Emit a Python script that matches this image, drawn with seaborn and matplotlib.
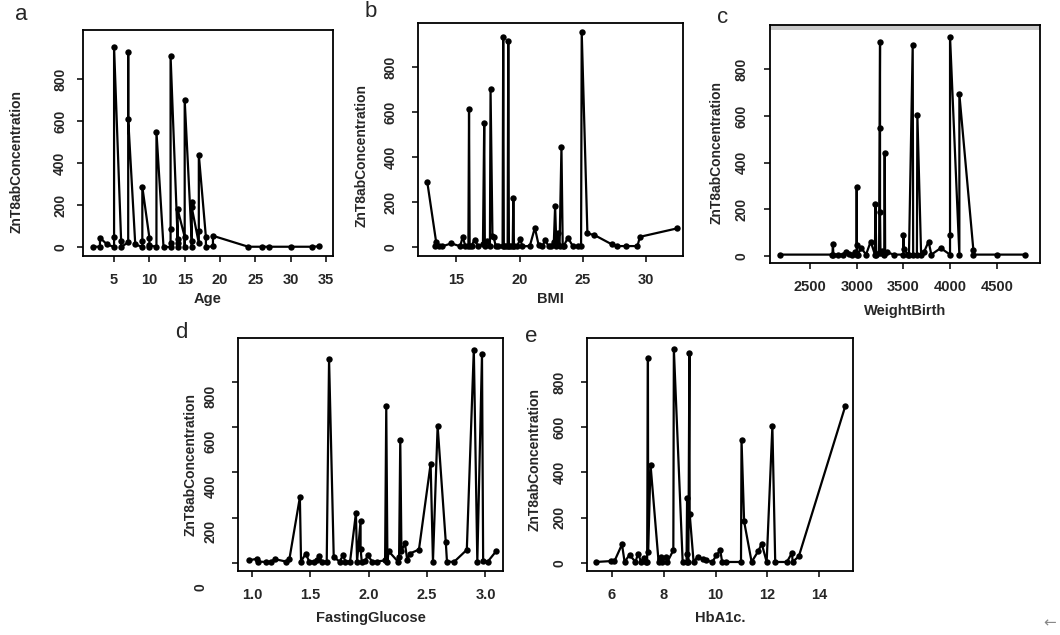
import matplotlib
matplotlib.use("Agg")
import matplotlib.pyplot as plt
import matplotlib.transforms as mtransforms
from matplotlib.patches import Rectangle
import seaborn as sns

# | Data (in drawing order) |---------------------------------------------------------------------------------------|
age_x = [2, 3, 3, 4, 5, 5, 5, 6, 6, 7, 7, 7, 8, 9, 9, 9, 10, 10, 10, 11, 11, 12, 13, 13, 13, 13,
         14, 14, 14, 14, 15, 15, 15, 16, 16, 16, 16, 17, 17, 17, 18, 18, 19, 19, 24, 26, 27, 30, 33, 34]
age_y = [2, 4, 46, 14, 2, 49, 951, 30, 2, 24, 927, 610, 14, 2, 30, 288, 46, 2, 10, 2, 550, 2, 2, 20, 86, 910,
         40, 2, 20, 180, 50, 2, 700, 30, 2, 215, 190, 20, 80, 440, 50, 2, 5, 55, 3, 3, 3, 3, 3, 5]

bmi_x = [12.7, 13.4, 13.3, 13.6, 13.9, 14.6, 15.3, 15.5, 15.7, 15.95, 16.0, 16.05, 16.2, 16.45, 16.7,
         17.1, 17.2, 17.25, 17.4, 17.65, 17.7, 17.85, 17.95, 18.1, 18.3, 18.65, 18.7, 18.75, 18.9, 19.05,
         19.1, 19.15, 19.3, 19.45, 19.5, 19.55, 19.8, 20.05, 20.2, 20.8, 21.2, 21.5, 21.8, 22.0, 22.3,
         22.5, 22.7, 22.8, 22.9, 23.0, 23.15, 23.3, 23.4, 23.5, 23.8, 24.2, 24.6, 24.85, 24.9, 25.35,
         25.9, 27.3, 27.7, 28.4, 29.3, 29.5, 32.4]
bmi_y = [291, 25, 5, 5, 5, 18, 5, 47, 8, 5, 612, 5, 8, 35, 5,
         15, 552, 5, 30, 5, 701, 50, 45, 8, 8, 5, 933, 5, 5, 5,
         915, 5, 5, 5, 221, 5, 5, 38, 5, 6, 87, 10, 5, 32, 5,
         5, 25, 184, 5, 62, 5, 444, 5, 8, 43, 6, 6, 5, 955, 62,
         55, 13, 6, 6, 6, 47, 84]

wb_x = [2180, 2740, 2745, 2750, 2800, 2850, 2890, 2920, 2950, 2980, 3000, 3000, 3000, 3010, 3050,
        3100, 3150, 3195, 3200, 3210, 3240, 3250, 3250, 3250, 3255, 3270, 3295, 3300, 3305, 3320,
        3400, 3500, 3500, 3505, 3550, 3560, 3600, 3605, 3645, 3650, 3690, 3720, 3770, 3800, 3900,
        4000, 4000, 4000, 4100, 4100, 4250, 4250, 4500, 4800]
wb_y = [5, 5, 50, 5, 5, 5, 18, 8, 5, 15, 5, 297, 47, 5, 33,
        5, 61, 5, 221, 5, 10, 918, 547, 187, 10, 20, 5, 440, 10, 15,
        5, 5, 90, 30, 5, 5, 904, 5, 5, 604, 5, 15, 61, 5, 33,
        5, 90, 940, 5, 693, 25, 5, 5, 5]

fg_x = [0.97, 1.04, 1.05, 1.12, 1.16, 1.2, 1.29, 1.32, 1.41, 1.42, 1.46, 1.49, 1.53, 1.56, 1.57,
        1.60, 1.64, 1.66, 1.70, 1.75, 1.78, 1.80, 1.84, 1.89, 1.90, 1.93, 1.93, 1.94, 1.97, 1.99,
        2.03, 2.07, 2.14, 2.15, 2.16, 2.17, 2.25, 2.26, 2.27, 2.28, 2.31, 2.33, 2.35, 2.43, 2.53,
        2.55, 2.59, 2.66, 2.67, 2.73, 2.84, 2.90, 2.93, 2.97, 2.98, 3.02, 3.09]
fg_y = [10, 17, 5, 3, 5, 15, 5, 15, 290, 5, 40, 5, 5, 10, 28,
        5, 5, 903, 25, 5, 32, 5, 5, 219, 5, 185, 61, 5, 8, 32,
        5, 5, 10, 693, 5, 51, 5, 25, 546, 51, 86, 10, 40, 58, 438,
        5, 606, 90, 5, 3, 57, 945, 5, 923, 8, 5, 50]

hb_x = [5.38, 5.97, 6.1, 6.39, 6.49, 6.68, 6.91, 7.01, 7.13, 7.23, 7.3, 7.36, 7.39, 7.40, 7.49,
        7.8, 7.85, 7.9, 7.95, 8.08, 8.14, 8.37, 8.39, 8.73, 8.88, 8.9, 8.91, 8.95, 8.99, 9.0,
        9.15, 9.31, 9.51, 9.64, 9.87, 10.03, 10.18, 10.25, 10.42, 10.98, 11.0, 11.1, 11.39, 11.65,
        11.78, 11.97, 12.19, 12.3, 12.75, 12.95, 12.97, 13.21, 15.0]
hb_y = [3, 7, 7, 81, 3, 35, 3, 40, 3, 22, 3, 5, 906, 47, 435,
        5, 15, 25, 5, 25, 3, 55, 947, 3, 5, 286, 40, 5, 928, 217,
        5, 25, 18, 10, 3, 32, 55, 5, 3, 3, 546, 183, 3, 52,
        84, 3, 605, 3, 3, 44, 3, 28, 693]

conc_ticks = [0, 200, 400, 600, 800]
# |------------------------------------------------------------------------------------------------------------------|

W, H = 1060, 635

sns.set_style("ticks")
plt.rcParams["font.family"] = ["Liberation Sans", "DejaVu Sans"]

fig = plt.figure(figsize=(W / 100, H / 100), dpi=100)


def px_box(left, top, right, bottom):
    return [left / W, 1 - bottom / H, (right - left) / W, (bottom - top) / H]


panels = [
    dict(letter="a", lpos=(15, 20), x=age_x, y=age_y, xlabel="Age", box=(83, 30, 333, 256),
         xlim=(0.6, 36.0), ylim=(-41, 1033), xticks=[5, 10, 15, 20, 25, 30, 35], fmt="{:g}",
         ylab=(-0.236, 0.42), ypad=7, xlab_px=43),
    dict(letter="b", lpos=(365, 17), x=bmi_x, y=bmi_y, xlabel="BMI", box=(418, 23, 683, 256),
         xlim=(11.97, 32.9), ylim=(-38, 995), xticks=[15, 20, 25, 30], fmt="{:g}",
         ylab=(-0.185, 0.433), ypad=10, xlab_px=43),
    dict(letter="c", lpos=(717, 23), x=wb_x, y=wb_y, xlabel="WeightBirth", box=(770, 25, 1040, 263),
         xlim=(2071, 4964), ylim=(-31, 990), xticks=[2500, 3000, 3500, 4000, 4500], fmt="{:g}",
         ylab=(-0.170, 0.466), ypad=11, xlab_px=48),
    dict(letter="d", lpos=(175, 338), x=fg_x, y=fg_y, xlabel="FastingGlucose", box=(238, 338, 503, 571),
         xlim=(0.88, 3.15), ylim=(-37, 996), xticks=[1.0, 1.5, 2.0, 2.5, 3.0], fmt="{:.1f}",
         ylab=(-0.151, 0.456), ypad=10, xlab_px=47),
    dict(letter="e", lpos=(525, 342), x=hb_x, y=hb_y, xlabel="HbA1c.", box=(587, 338, 853, 571),
         xlim=(5.04, 15.3), ylim=(-37, 996), xticks=[6, 8, 10, 12, 14], fmt="{:g}",
         ylab=(-0.170, 0.477), ypad=10, xlab_px=47),
]

for p in panels:
    ax = fig.add_axes(px_box(*p["box"]))
    sns.lineplot(x=p["x"], y=p["y"], sort=False, estimator=None, ax=ax, color="black",
                 linewidth=1.6, marker="o", markersize=4.6, markeredgewidth=0)
    ax.set_xlim(*p["xlim"])
    ax.set_ylim(*p["ylim"])
    ax.set_xticks(p["xticks"], labels=[p["fmt"].format(t) for t in p["xticks"]])
    ax.set_yticks(conc_ticks, labels=[str(t) for t in conc_ticks])
    ax.tick_params(axis="both", direction="out", length=4.5, width=1.1, color="black")
    ax.tick_params(axis="x", labelsize=10.5, pad=7.5)
    ax.tick_params(axis="y", labelsize=10, labelrotation=90, pad=p["ypad"])
    for lab in ax.get_xticklabels() + ax.get_yticklabels():
        lab.set_fontweight("bold")
    for lab in ax.get_yticklabels():
        lab.set_va("center")
    for s in ax.spines.values():
        s.set_visible(True)
        s.set_linewidth(1.3)
        s.set_color("black")

    box_h = p["box"][3] - p["box"][1]
    ax.set_ylabel("ZnT8abConcentration", fontsize=10, fontweight="bold")
    ax.yaxis.set_label_coords(*p["ylab"])
    ax.set_xlabel(p["xlabel"], fontsize=10.5, fontweight="bold", va="center")
    ax.xaxis.set_label_coords(0.5, -p["xlab_px"] / box_h)

    fig.text(p["lpos"][0] / W, 1 - p["lpos"][1] / H, p["letter"], fontsize=16, va="baseline")

    if p["letter"] == "c":
        # light grey band under the top frame line
        ax.add_patch(Rectangle((0, 0.978), 1, 0.022, transform=ax.transAxes,
                               facecolor="#c8c8c8", edgecolor="none", zorder=0))
    if p["letter"] == "d":
        # tick labels sit lower than their ticks in this panel; the "0" is off on its own
        shift = mtransforms.ScaledTranslation(0, -0.14, fig.dpi_scale_trans)
        labs = ax.get_yticklabels()
        labs[0].set_visible(False)
        for lab in labs[1:]:
            lab.set_transform(lab.get_transform() + shift)
        fig.text(200 / W, 1 - 587 / H, "0", fontsize=10, fontweight="bold",
                 rotation=90, ha="center", va="center")

fig.text(1050 / W, 1 - 623 / H, "\u2190", fontsize=11, color="#888888", ha="center", va="center",
         family=["DejaVu Sans"])

fig.savefig("out.png", dpi=100, facecolor="white")
